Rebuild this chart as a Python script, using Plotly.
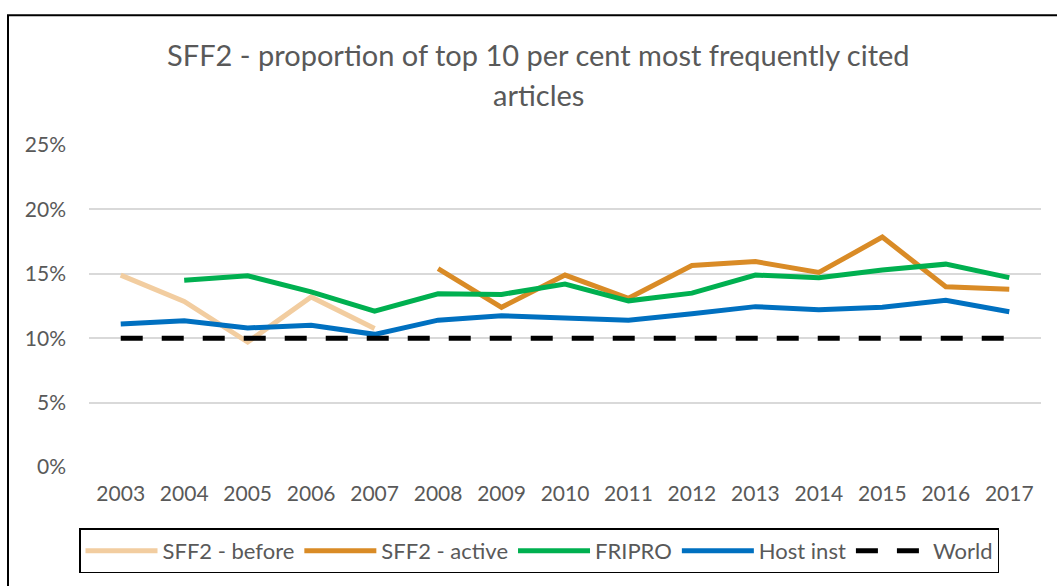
import plotly.graph_objects as go

years = ["2003", "2004", "2005", "2006", "2007", "2008", "2009", "2010",
         "2011", "2012", "2013", "2014", "2015", "2016", "2017"]

sff2_before = [14.9, 12.85, 9.7, 13.2, 10.75, None, None, None, None, None, None, None, None, None, None]
sff2_active = [None, None, None, None, None, 15.4, 12.4, 14.9, 13.1, 15.65, 15.95, 15.1, 17.85, 14.0, 13.8]
fripro = [None, 14.5, 14.85, 13.6, 12.1, 13.45, 13.4, 14.2, 12.9, 13.5, 14.9, 14.7, 15.3, 15.75, 14.7]
host_inst = [11.1, 11.35, 10.8, 11.0, 10.3, 11.4, 11.75, 11.6, 11.4, 11.9, 12.45, 12.2, 12.4, 12.95, 12.05]
world = [10.0] * 15

series = [
    ("SFF2 - before", sff2_before, "#F2CDA0", None),
    ("SFF2 - active", sff2_active, "#D98B26", None),
    ("FRIPRO", fripro, "#00B050", None),
    ("Host inst", host_inst, "#0070C0", None),
    ("World", world, "#000000", "22px,19px"),
]

FONT = "Lato"
TXT = "#595959"

fig = go.Figure()
for name, vals, color, dash in series:
    fig.add_trace(go.Scatter(
        x=years, y=[v / 100 if v is not None else None for v in vals],
        name=name, mode="lines",
        line=dict(color=color, width=5, dash=dash),
        connectgaps=False,
    ))

W, H = 1057, 586
L, R, T, B = 89, 16, 145, 116
pw = W - L - R
ph = H - T - B

def px_x(x):
    return (x - L) / pw

def px_y(y):
    return (H - B - y) / ph

fig.update_layout(
    width=W, height=H,
    margin=dict(l=L, r=R, t=T, b=B),
    paper_bgcolor="white", plot_bgcolor="white",
    font=dict(family=FONT, color=TXT, size=21),
    showlegend=True,
    legend=dict(
        orientation="h", x=px_x(539), xanchor="center",
        y=px_y(532), yanchor="top",
        bordercolor="#000000", borderwidth=1.5,
        font=dict(family=FONT, color=TXT, size=22),
        itemwidth=72,
    ),
    xaxis=dict(
        type="category", range=[-0.5, 14.5],
        showgrid=False, zeroline=False, showline=False,
        ticks="", ticklabelstandoff=12,
        tickfont=dict(family=FONT, color=TXT, size=21),
        fixedrange=True,
    ),
    yaxis=dict(
        range=[0, 0.25], dtick=0.05, tickformat=".0%",
        showgrid=True, gridcolor="#D9D9D9", gridwidth=1.5,
        zeroline=False, showline=False, ticks="",
        ticklabelstandoff=22,
        tickfont=dict(family=FONT, color=TXT, size=21),
        fixedrange=True,
    ),
    annotations=[
        dict(text="SFF2 - proportion of top 10 per cent most frequently cited",
             xref="paper", yref="paper", x=px_x(538), y=px_y(54),
             xanchor="center", yanchor="middle", showarrow=False,
             font=dict(family=FONT, color=TXT, size=29)),
        dict(text="articles",
             xref="paper", yref="paper", x=px_x(538), y=px_y(94),
             xanchor="center", yanchor="middle", showarrow=False,
             font=dict(family=FONT, color=TXT, size=29)),
    ],
    shapes=[
        dict(type="rect", xref="paper", yref="paper",
             x0=px_x(8), x1=px_x(1070), y0=px_y(600), y1=px_y(14),
             line=dict(color="#000000", width=2), layer="below"),
    ],
)

fig.write_html("out.html",
               config={"displayModeBar": False},
               post_script="document.body.style.margin='0';document.body.style.overflow='hidden';")
